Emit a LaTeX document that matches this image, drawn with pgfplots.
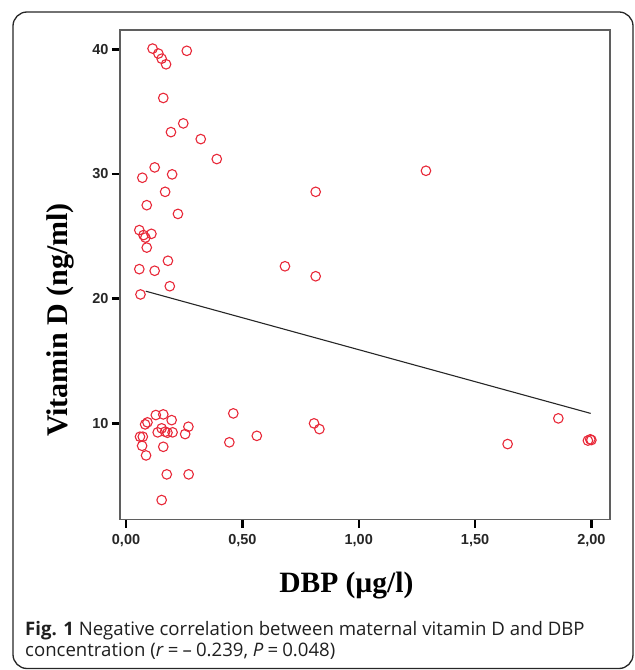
\documentclass[border=0pt]{standalone}
\usepackage{fontspec}
\setmainfont{Liberation Serif}
\newfontfamily\tickfont{Liberation Sans}
\newfontfamily\capfont{Open Sans}
\usepackage{pgfplots}
\pgfplotsset{compat=1.18}
\definecolor{ptred}{RGB}{232,40,56}
\definecolor{axgray}{RGB}{95,95,95}
\begin{document}
\begin{tikzpicture}
\path[use as bounding box] (-120pt,-150.5pt) rectangle (515pt,519.5pt);
\draw[line width=1.3pt, rounded corners=14pt, black!85] (-107pt,-149pt) rectangle (513pt,507.5pt);
\begin{axis}[
  at={(0pt,0pt)}, anchor=south west,
  scale only axis, width=490pt, height=489.5pt,
  xmin=-0.026, xmax=2.08, ymin=2.29, ymax=41.55,
  axis line style={axgray, line width=1.2pt},
  xtick={0,0.5,1,1.5,2}, ytick={10,20,30,40},
  tick align=outside, major tick length=8pt,
  tick style={black, line width=2.4pt},
  major tick style={black, line width=2.4pt},
  xtick pos=bottom, ytick pos=left,
  /pgf/number format/assume math mode=true,
  tick label style={font=\tickfont\bfseries\fontsize{14.5}{16}\selectfont, text=black!85},
  xticklabel style={/pgf/number format/.cd, fixed, fixed zerofill, precision=2, use comma},
  xticklabel shift=3.5pt,
  xlabel={DBP (µg/l)},
  ylabel={Vitamin D (ng/ml)},
  xlabel style={at={(axis description cs:0.462,-0.150)}, anchor=base, font=\bfseries\fontsize{29.5}{31}\selectfont},
  ylabel style={at={(axis description cs:-0.108,0.4076)}, anchor=base, font=\bfseries\fontsize{30}{32}\selectfont},
]
\addplot[only marks, mark=o, mark size=4.8pt, mark options={ptred, line width=1.1pt}] coordinates {
(0.114,40.06) (0.139,39.66) (0.153,39.25) (0.172,38.8) (0.261,39.88)
(0.160,36.1) (0.246,34.06) (0.193,33.36) (0.321,32.8) (0.390,31.2)
(0.123,30.53) (0.070,29.7) (0.198,29.97) (0.168,28.57) (0.815,28.57)
(0.089,27.5) (0.223,26.8) (0.057,25.5) (0.075,25.1) (0.083,24.9)
(0.109,25.2) (0.089,24.1) (0.057,22.37) (0.123,22.24) (0.180,23.04)
(0.683,22.6) (0.815,21.8) (0.188,21.0) (0.062,20.34) (1.289,30.26)
(1.858,10.4) (1.640,8.34) (1.985,8.62) (1.995,8.72) (2.000,8.66)
(0.128,10.67) (0.160,10.72) (0.196,10.26) (0.092,10.08) (0.082,9.92)
(0.060,8.93) (0.072,8.93) (0.069,8.2) (0.086,7.43) (0.136,9.28)
(0.153,9.6) (0.168,9.33) (0.178,9.25) (0.200,9.28) (0.160,8.12)
(0.268,9.73) (0.254,9.14) (0.175,5.91) (0.269,5.91) (0.153,3.85)
(0.461,10.8) (0.444,8.48) (0.562,9.0) (0.808,10.0) (0.831,9.54)
};
\addplot[black!85, line width=1.1pt] coordinates {(0.085,20.6) (1.997,10.8)};
\end{axis}
\node[anchor=base west, inner sep=0pt, text=black!88, font=\capfont\fontsize{18.6}{20}\selectfont] at (-95pt,-115.5pt)
  {\textbf{Fig. 1} Negative correlation between maternal vitamin D and DBP};
\node[anchor=base west, inner sep=0pt, text=black!88, font=\capfont\fontsize{18.6}{20}\selectfont] at (-95pt,-137.2pt)
  {concentration (\textit{r}\:=\:–\:0.239, \textit{P}\:=\:0.048)};
\end{tikzpicture}
\end{document}
